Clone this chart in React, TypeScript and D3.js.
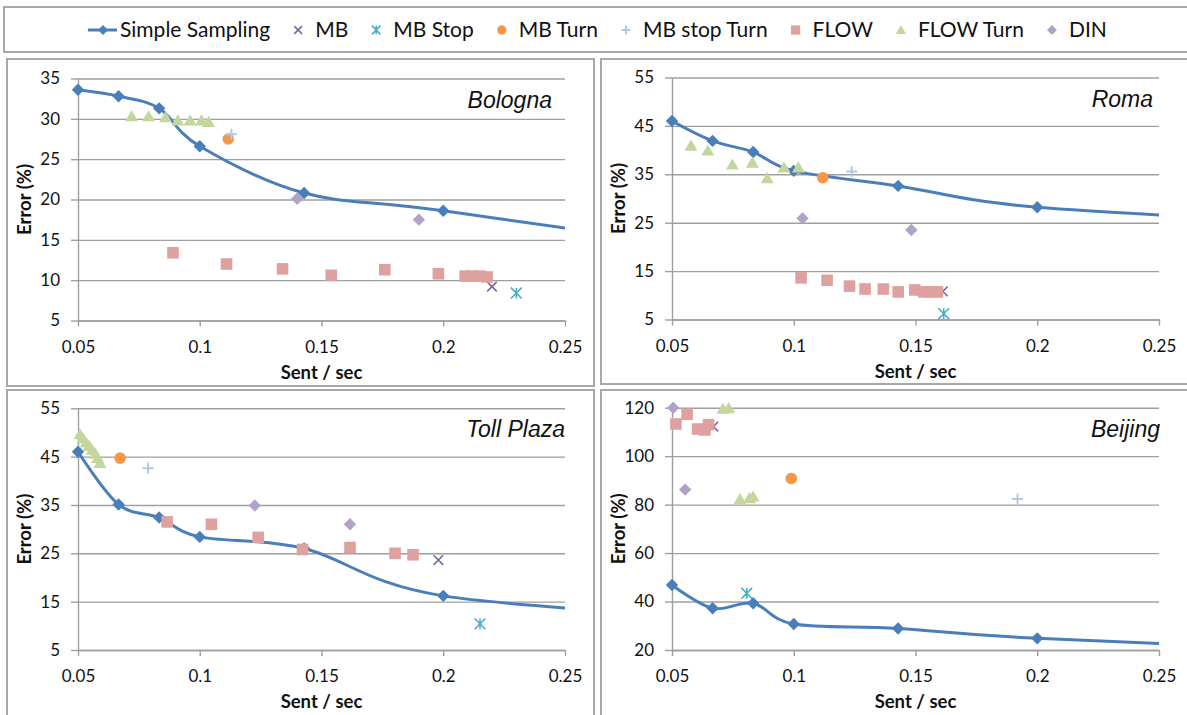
import React, { useEffect, useRef } from 'react';
import * as d3 from 'd3';

const W = 1187;
const H = 715;

// sampling rates (sent / sec) of the simple sampling curve; the last one lies past the axis
const sentX = [0.05, 1 / 15, 1 / 12, 0.1, 1 / 7, 0.2, 1 / 3];
const xTicks = [0.05, 0.1, 0.15, 0.2, 0.25];

const legendLabels = ['Simple Sampling', 'MB', 'MB Stop', 'MB Turn', 'MB stop Turn', 'FLOW', 'FLOW Turn', 'DIN'];

// Bologna
const bolognaTicks = [5, 10, 15, 20, 25, 30, 35];
const bolognaSimple = [33.6, 32.8, 31.3, 26.6, 20.8, 18.6, 12.9];
const bolognaMB = [[0.22, 9.2]];
const bolognaMBStop = [[0.23, 8.4]];
const bolognaMBTurn = [[0.1117, 27.5]];
const bolognaMBStopTurn = [[0.113, 28.1]];
const bolognaFlow = [[0.089, 13.4], [0.111, 12.0], [0.134, 11.4], [0.154, 10.6], [0.176, 11.3], [0.198, 10.8], [0.209, 10.5], [0.212, 10.5], [0.215, 10.5], [0.218, 10.4]];
const bolognaFlowTurn = [[0.072, 30.3], [0.079, 30.3], [0.086, 30.2], [0.091, 29.8], [0.096, 29.8], [0.1007, 29.8], [0.1036, 29.6]];
const bolognaDin = [[0.14, 20.1], [0.19, 17.5]];

// Roma
const romaTicks = [5, 15, 25, 35, 45, 55];
const romaSimple = [46.0, 41.9, 39.6, 35.7, 32.6, 28.2, 24.6];
const romaMB = [[0.1612, 10.8]];
const romaMBStop = [[0.1616, 6.2]];
const romaMBTurn = [[0.1119, 34.3]];
const romaMBStopTurn = [[0.1238, 35.6]];
const romaFlow = [[0.103, 13.6], [0.1137, 13.1], [0.1229, 11.9], [0.1293, 11.3], [0.1368, 11.3], [0.1429, 10.7], [0.1497, 11.1], [0.1534, 10.7], [0.1562, 10.7], [0.159, 10.7]];
const romaFlowTurn = [[0.0578, 40.9], [0.0647, 39.9], [0.0748, 37.0], [0.083, 37.4], [0.0891, 34.2], [0.096, 36.4], [0.1019, 36.4]];
const romaDin = [[0.1036, 25.9], [0.1483, 23.5]];

// Toll Plaza
const tollTicks = [5, 15, 25, 35, 45, 55];
const tollSimple = [46.0, 35.1, 32.4, 28.4, 26.0, 16.2, 11.0];
const tollMB = [[0.198, 23.6]];
const tollMBStop = [[0.2151, 10.4]];
const tollMBTurn = [[0.0673, 44.7]];
const tollMBStopTurn = [[0.0788, 42.6]];
const tollFlow = [[0.0866, 31.5], [0.1048, 31.0], [0.124, 28.3], [0.1422, 25.8], [0.1617, 26.2], [0.1802, 25.0], [0.1876, 24.7]];
const tollFlowTurn = [[0.0508, 49.6], [0.052, 48.8], [0.0533, 47.9], [0.0546, 47.2], [0.0558, 46.4], [0.0571, 45.6], [0.058, 44.7], [0.059, 43.7]];
const tollDin = [[0.1226, 34.9], [0.1617, 31.0]];

// Beijing
const beijingTicks = [20, 40, 60, 80, 100, 120];
const beijingSimple = [46.8, 37.2, 39.3, 30.7, 28.9, 24.8, 19.5];
const beijingMB = [[0.067, 112.2]];
const beijingMBStop = [[0.0807, 43.4]];
const beijingMBTurn = [[0.099, 90.8]];
const beijingMBStopTurn = [[0.1919, 82.3]];
const beijingFlow = [[0.0516, 113.3], [0.0562, 117.3], [0.0605, 111.2], [0.0635, 110.8], [0.065, 113.0]];
const beijingFlowTurn = [[0.0709, 119.5], [0.0733, 119.8], [0.0779, 82.2], [0.0818, 82.6], [0.0833, 83.3]];
const beijingDin = [[0.0505, 120], [0.0554, 86.2]];

const styles = [
  { color: '#4a7ebb', shape: 'diamond' },
  { color: '#8064a2', shape: 'x' },
  { color: '#4bacc6', shape: 'star' },
  { color: '#f79646', shape: 'circle' },
  { color: '#b3c6e2', shape: 'plus' },
  { color: '#dfa19f', shape: 'square' },
  { color: '#c3d69b', shape: 'triangle' },
  { color: '#b3a2c7', shape: 'diamond' },
];

const panels = [
  {
    name: 'Bologna', domain: [5, 35], ticks: bolognaTicks, simple: bolognaSimple,
    scatter: [bolognaMB, bolognaMBStop, bolognaMBTurn, bolognaMBStopTurn, bolognaFlow, bolognaFlowTurn, bolognaDin],
    box: [7, 59, 594, 386], x0: 78, x1: 565, y0: 78.5, y1: 320.5, titleX: 552,
  },
  {
    name: 'Roma', domain: [5, 55], ticks: romaTicks, simple: romaSimple,
    scatter: [romaMB, romaMBStop, romaMBTurn, romaMBStopTurn, romaFlow, romaFlowTurn, romaDin],
    box: [601, 59, 1192, 384], x0: 672, x1: 1159, y0: 77.5, y1: 319.5, titleX: 1153,
  },
  {
    name: 'Toll Plaza', domain: [5, 55], ticks: tollTicks, simple: tollSimple,
    scatter: [tollMB, tollMBStop, tollMBTurn, tollMBStopTurn, tollFlow, tollFlowTurn, tollDin],
    box: [7, 390, 594, 722], x0: 78, x1: 565, y0: 408.3, y1: 650, titleX: 565,
  },
  {
    name: 'Beijing', domain: [20, 120], ticks: beijingTicks, simple: beijingSimple,
    scatter: [beijingMB, beijingMBStop, beijingMBTurn, beijingMBStopTurn, beijingFlow, beijingFlowTurn, beijingDin],
    box: [601, 390, 1192, 722], x0: 672, x1: 1159, y0: 407.7, y1: 650, titleX: 1160,
  },
];

function shapePath(shape: string, r: number) {
  switch (shape) {
    case 'diamond':
      return `M0,${-r}L${r},0L0,${r}L${-r},0Z`;
    case 'square':
      return `M${-r},${-r}h${2 * r}v${2 * r}h${-2 * r}Z`;
    case 'triangle':
      return `M0,${-r}L${r * 1.05},${r * 0.8}L${-r * 1.05},${r * 0.8}Z`;
    case 'x':
      return `M${-r},${-r}L${r},${r}M${-r},${r}L${r},${-r}`;
    case 'plus':
      return `M${-r},0H${r}M0,${-r}V${r}`;
    case 'star':
      return `M${-r},${-r}L${r},${r}M${-r},${r}L${r},${-r}M0,${-r}V${r}`;
    default:
      return '';
  }
}

function drawMarker(g: any, shape: string, color: string, r: number) {
  if (shape === 'circle') {
    g.append('circle').attr('r', r).attr('fill', color);
  } else if (shape === 'x' || shape === 'plus' || shape === 'star') {
    g.append('path').attr('d', shapePath(shape, r)).attr('stroke', color)
      .attr('stroke-width', shape === 'plus' ? 2 : 1.6).attr('fill', 'none');
  } else {
    g.append('path').attr('d', shapePath(shape, r)).attr('fill', color);
  }
}

const markerSize: Record<string, number> = {
  diamond: 6.2, square: 5.8, triangle: 6.2, circle: 5.8, x: 4.8, plus: 5.5, star: 5.4,
};

export default function App() {
  const ref = useRef<SVGSVGElement>(null);

  useEffect(() => {
    const svg = d3.select(ref.current);
    svg.selectAll('*').remove();
    const font = 'Lato, "Open Sans", sans-serif';

    // legend
    svg.append('rect').attr('x', 4).attr('y', 7).attr('width', 1200).attr('height', 45)
      .attr('fill', 'white').attr('stroke', '#a9a9a9').attr('stroke-width', 2);
    const leg = svg.append('g');
    let cx = 88;
    legendLabels.forEach((label, i) => {
      const st = styles[i];
      let textX;
      if (i === 0) {
        leg.append('line').attr('x1', cx).attr('x2', cx + 29).attr('y1', 30).attr('y2', 30)
          .attr('stroke', st.color).attr('stroke-width', 3);
        const m = leg.append('g').attr('transform', `translate(${cx + 15},30)`);
        drawMarker(m, st.shape, st.color, 5);
        textX = cx + 32;
      } else {
        const m = leg.append('g').attr('transform', `translate(${cx},30)`);
        drawMarker(m, st.shape, st.color, markerSize[st.shape] * 0.8);
        textX = cx + 17;
      }
      const t = leg.append('text').attr('x', textX).attr('y', 37).text(label)
        .attr('font-family', font).attr('font-size', 21).attr('fill', '#111');
      const len = (t.node() as SVGTextElement).getComputedTextLength();
      cx = textX + len + 28;
    });

    panels.forEach((p, pi) => {
      const x = d3.scaleLinear().domain([0.05, 0.25]).range([p.x0, p.x1]);
      const y = d3.scaleLinear().domain(p.domain).range([p.y1, p.y0]);
      const g = svg.append('g');
      const [bx0, by0, bx1, by1] = p.box;
      g.append('rect').attr('x', bx0).attr('y', by0).attr('width', bx1 - bx0).attr('height', by1 - by0)
        .attr('fill', 'white').attr('stroke', '#a9a9a9').attr('stroke-width', 2);

      // gridlines
      g.append('g').attr('transform', `translate(${p.x0},0)`)
        .call(d3.axisLeft(y).tickValues(p.ticks).tickSize(-(p.x1 - p.x0)).tickFormat(() => ''))
        .call((s: any) => s.select('.domain').remove())
        .call((s: any) => s.selectAll('line').attr('stroke', '#9f9f9f').attr('stroke-width', 1.4));

      // y axis
      g.append('g').attr('transform', `translate(${p.x0},0)`)
        .call(d3.axisLeft(y).tickValues(p.ticks).tickSize(7).tickSizeOuter(0).tickPadding(11).tickFormat((d: any) => String(d)))
        .call((s: any) => s.select('.domain').attr('stroke', '#9f9f9f').attr('stroke-width', 1.4))
        .call((s: any) => s.selectAll('line').attr('stroke', '#9f9f9f').attr('stroke-width', 1.4))
        .call((s: any) => s.selectAll('text').attr('font-family', font).attr('font-size', 17).attr('fill', '#111'));

      // x axis
      g.append('g').attr('transform', `translate(0,${p.y1})`)
        .call(d3.axisBottom(x).tickValues(xTicks).tickSize(6).tickSizeOuter(0).tickPadding(14).tickFormat((d: any) => String(d)))
        .call((s: any) => s.select('.domain').attr('stroke', '#9f9f9f').attr('stroke-width', 1.4))
        .call((s: any) => s.selectAll('line').attr('stroke', '#9f9f9f').attr('stroke-width', 1.4))
        .call((s: any) => s.selectAll('text').attr('font-family', font).attr('font-size', 17).attr('fill', '#111'));

      // axis titles
      g.append('text').attr('x', (p.x0 + p.x1) / 2).attr('y', p.y1 + 58).attr('text-anchor', 'middle')
        .attr('font-family', font).attr('font-weight', 'bold').attr('font-size', 18.5).attr('fill', '#111')
        .text('Sent / sec');
      g.append('text').attr('transform', `translate(${p.x0 - 47},${(p.y0 + p.y1) / 2}) rotate(-90)`)
        .attr('text-anchor', 'middle').attr('font-family', font).attr('font-weight', 'bold')
        .attr('font-size', 18.5).attr('fill', '#111').text('Error (%)');

      // panel title
      g.append('text').attr('x', p.titleX).attr('y', p.y0 + 29).attr('text-anchor', 'end')
        .attr('font-family', '"Liberation Sans", Arial, sans-serif').attr('font-style', 'italic')
        .attr('font-size', 23).attr('fill', '#111').text(p.name);

      // simple sampling curve
      const clipId = `clip-${pi}`;
      svg.append('defs').append('clipPath').attr('id', clipId).append('rect')
        .attr('x', p.x0).attr('y', p.y0 - 20).attr('width', p.x1 - p.x0).attr('height', p.y1 - p.y0 + 40);
      const pts = sentX.map((sx, k) => [sx, p.simple[k]]);
      const line = d3.line<number[]>().x(d => x(d[0])).y(d => y(d[1])).curve(d3.curveCardinal.tension(0));
      g.append('path').attr('d', line(pts)).attr('clip-path', `url(#${clipId})`)
        .attr('fill', 'none').attr('stroke', styles[0].color).attr('stroke-width', 3);
      g.selectAll('g.simple').data(pts.filter(d => d[0] <= 0.25)).join('g')
        .attr('transform', d => `translate(${x(d[0])},${y(d[1])})`)
        .each(function () { drawMarker(d3.select(this), 'diamond', styles[0].color, markerSize.diamond); });

      // scatter series
      p.scatter.forEach((data, si) => {
        const st = styles[si + 1];
        g.append('g').selectAll('g').data(data).join('g')
          .attr('transform', d => `translate(${x(d[0])},${y(d[1])})`)
          .each(function () { drawMarker(d3.select(this), st.shape, st.color, markerSize[st.shape]); });
      });
    });
  }, []);

  return (
    <svg ref={ref} width={W} height={H} style={{ position: 'absolute', left: 0, top: 0, background: 'white' }} />
  );
}
